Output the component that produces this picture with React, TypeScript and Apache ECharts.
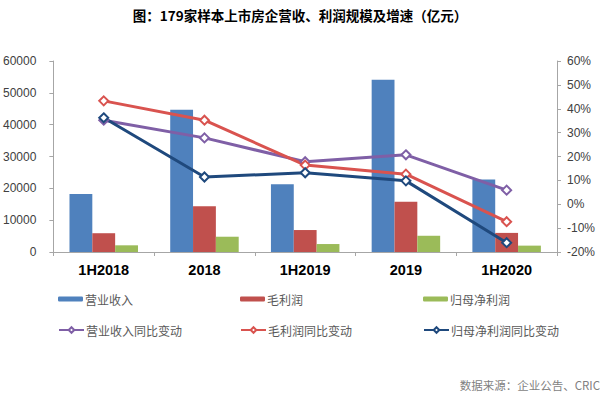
import React, { useEffect, useRef } from "react";
import * as echarts from "echarts";

const categories = ["1H2018", "2018", "1H2019", "2019", "1H2020"];
const revenue = [18200, 44700, 21300, 54100, 22800];
const grossProfit = [5900, 14400, 6900, 15800, 6000];
const netProfit = [2100, 4800, 2500, 5100, 2000];
const revenueYoY = [35.2, 27.8, 17.8, 20.7, 5.9];
const grossYoY = [43.3, 35.2, 16.4, 12.6, -7.3];
const netYoY = [36.2, 11.4, 13.2, 9.8, -16.1];
const leftTicks = { min: 0, max: 60000, interval: 10000 };
const rightTicks = { min: -20, max: 60, interval: 10 };

const FONT = "'Noto Sans CJK SC', 'Liberation Sans', Arial, sans-serif";

export default function App() {
  const ref = useRef<HTMLDivElement>(null);
  useEffect(() => {
    if (!ref.current) return;
    const chart = echarts.init(ref.current, undefined, { renderer: "svg" });
    const axisLine = { show: true, lineStyle: { color: "#a6a6a6", width: 1 } };
    const legendBase = (name: string, left: number, top: number, line: boolean) => ({
      data: [name],
      left,
      top,
      itemWidth: 25,
      itemHeight: line ? 7 : 5,
      itemGap: 0,
      padding: 0,
      textStyle: { color: "#595959", fontSize: 12, fontFamily: FONT, padding: [0, 0, 0, -3] },
      selectedMode: false,
    });
    const lineSeries = (name: string, data: number[], color: string) => ({
      name,
      type: "line",
      yAxisIndex: 1,
      data,
      z: 5,
      symbol: "diamond",
      symbolSize: 9,
      showSymbol: true,
      lineStyle: { color, width: 3 },
      itemStyle: { color: "#ffffff", borderColor: color, borderWidth: 2 },
    });
    chart.setOption({
      animation: false,
      textStyle: { fontFamily: FONT },
      title: {
        text: "图：179家样本上市房企营收、利润规模及增速（亿元）",
        left: 295,
        textAlign: "center",
        top: 3,
        textStyle: { fontSize: 13.5, fontWeight: "bold", color: "#000", fontFamily: FONT },
      },
      graphic: [
        {
          type: "text",
          right: 0,
          top: 379,
          style: { text: "数据来源：企业公告、CRIC", fill: "#7f7f7f", fontSize: 11.5, fontFamily: FONT },
        },
      ],
      legend: [
        legendBase("营业收入", 58, 293, false),
        legendBase("毛利润", 240, 293, false),
        legendBase("归母净利润", 423, 293, false),
        legendBase("营业收入同比变动", 58, 324, true),
        legendBase("毛利润同比变动", 240, 324, true),
        legendBase("归母净利润同比变动", 423, 324, true),
      ],
      grid: { left: 52, right: 43, top: 61, bottom: 145, containLabel: false },
      xAxis: {
        type: "category",
        data: categories,
        boundaryGap: true,
        axisLine,
        axisTick: { show: true, length: 4, lineStyle: { color: "#a6a6a6" } },
        axisLabel: { color: "#000", fontSize: 14.5, fontWeight: "bold", margin: 10, fontFamily: "'Liberation Sans', Arial, sans-serif" },
      },
      yAxis: [
        {
          type: "value",
          ...leftTicks,
          axisLine,
          axisTick: { show: true, length: 4, lineStyle: { color: "#a6a6a6" } },
          splitLine: { show: false },
          axisLabel: {
            color: "#404040",
            fontSize: 12,
            margin: 17,
            fontFamily: "'Liberation Sans', Arial, sans-serif",
            formatter: (v: number) => String(v),
          },
        },
        {
          type: "value",
          ...rightTicks,
          position: "right",
          axisLine,
          axisTick: { show: true, length: 4, lineStyle: { color: "#a6a6a6" } },
          splitLine: { show: false },
          axisLabel: {
            color: "#404040",
            fontSize: 12,
            margin: 10,
            fontFamily: "'Liberation Sans', Arial, sans-serif",
            formatter: (v: number) => `${v}%`,
          },
        },
      ],
      series: [
        { name: "营业收入", type: "bar", data: revenue, barGap: "0%", barCategoryGap: "32%", itemStyle: { color: "#4f81bd" } },
        { name: "毛利润", type: "bar", data: grossProfit, barGap: "0%", barCategoryGap: "32%", itemStyle: { color: "#c0504d" } },
        { name: "归母净利润", type: "bar", data: netProfit, barGap: "0%", barCategoryGap: "32%", itemStyle: { color: "#9bbb59" } },
        lineSeries("营业收入同比变动", revenueYoY, "#7f5fa6"),
        lineSeries("毛利润同比变动", grossYoY, "#d9534f"),
        lineSeries("归母净利润同比变动", netYoY, "#1f497d"),
      ],
    });
    return () => chart.dispose();
  }, []);
  return <div ref={ref} style={{ width: 600, height: 397, position: "absolute", left: 0, top: 0, background: "#fff" }} />;
}
